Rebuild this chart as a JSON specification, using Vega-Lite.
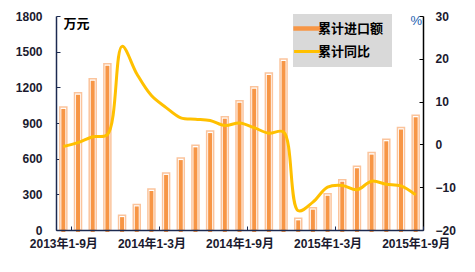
{
  "$schema": "https://vega.github.io/schema/vega-lite/v6.json",
  "width": 367,
  "height": 214,
  "autosize": {"type": "none"},
  "padding": {"left": 56, "top": 16, "right": 52, "bottom": 42},
  "background": "white",
  "config": {
    "view": {"stroke": null},
    "font": "Liberation Sans, Noto Sans CJK SC",
    "axis": {"labelFont": "Liberation Sans, Noto Sans CJK SC", "labelFontWeight": "bold", "labelFontSize": 12, "labelColor": "#1a1a2e", "grid": false}
  },
  "data": {"values": [
    {"period": "2013年1-9月", "amount": 1035, "yoy": -0.5},
    {"period": "2013年1-10月", "amount": 1155, "yoy": 0.4},
    {"period": "2013年1-11月", "amount": 1272, "yoy": 1.8},
    {"period": "2013年1-12月", "amount": 1398, "yoy": 2.3},
    {"period": "2014年1月", "amount": 125, "yoy": 22.9},
    {"period": "2014年1-2月", "amount": 215, "yoy": 16.5},
    {"period": "2014年1-3月", "amount": 345, "yoy": 11.4},
    {"period": "2014年1-4月", "amount": 480, "yoy": 8.6},
    {"period": "2014年1-5月", "amount": 605, "yoy": 6.2},
    {"period": "2014年1-6月", "amount": 712, "yoy": 5.9},
    {"period": "2014年1-7月", "amount": 832, "yoy": 5.6},
    {"period": "2014年1-8月", "amount": 953, "yoy": 4.4},
    {"period": "2014年1-9月", "amount": 1088, "yoy": 5.0},
    {"period": "2014年1-10月", "amount": 1205, "yoy": 3.9},
    {"period": "2014年1-11月", "amount": 1320, "yoy": 2.6},
    {"period": "2014年1-12月", "amount": 1438, "yoy": 2.9},
    {"period": "2015年1月", "amount": 98, "yoy": -15.5},
    {"period": "2015年1-2月", "amount": 188, "yoy": -13.5},
    {"period": "2015年1-3月", "amount": 305, "yoy": -10.0},
    {"period": "2015年1-4月", "amount": 423, "yoy": -9.6},
    {"period": "2015年1-5月", "amount": 536, "yoy": -10.6},
    {"period": "2015年1-6月", "amount": 651, "yoy": -8.6},
    {"period": "2015年1-7月", "amount": 763, "yoy": -9.3},
    {"period": "2015年1-8月", "amount": 862, "yoy": -9.7},
    {"period": "2015年1-9月", "amount": 965, "yoy": -11.8}
  ]},
  "encoding": {
    "x": {
      "field": "period", "type": "nominal", "sort": null,
      "scale": {"paddingInner": 0, "paddingOuter": 0},
      "axis": {
        "title": null, "labelAngle": 0, "zindex": 1,
        "values": ["2013年1-9月", "2014年1-3月", "2014年1-9月", "2015年1-3月", "2015年1-9月"],
        "domainColor": "#1c2a50", "domainWidth": 1.5, "tickColor": "#1c2a50",
        "tickBand": "extent", "tickSize": -4, "labelPadding": 12
      }
    }
  },
  "layer": [
    {
      "mark": {"type": "bar", "size": 7, "fill": "white", "stroke": "#fbc49c", "strokeWidth": 1.5},
      "encoding": {
        "y": {
          "field": "amount", "type": "quantitative",
          "scale": {"domain": [0, 1800]},
          "axis": {
            "values": [0, 300, 600, 900, 1200, 1500, 1800], "orient": "left", "format": "d",
            "title": "万元", "titleAngle": 0, "titleX": 7, "titleY": 1, "titleAlign": "left", "titleBaseline": "top",
            "titleFont": "Noto Sans CJK SC", "titleFontSize": 13, "titleFontWeight": "bold", "titleColor": "black",
            "domainColor": "#1c2a50", "domainWidth": 1.5, "tickColor": "#1c2a50", "tickSize": -4, "labelPadding": 18
          }
        }
      }
    },
    {
      "mark": {"type": "bar", "size": 4, "yOffset": 2},
      "encoding": {
        "y": {"field": "amount", "type": "quantitative", "scale": {"domain": [0, 1800]}, "axis": null},
        "color": {"datum": "累计进口额", "type": "nominal"}
      }
    },
    {
      "mark": {"type": "line", "strokeWidth": 3, "interpolate": "catmull-rom"},
      "encoding": {
        "y": {
          "field": "yoy", "type": "quantitative",
          "scale": {"domain": [-20, 30]},
          "axis": {
            "orient": "right", "values": [-20, -10, 0, 10, 20, 30],
            "title": "%", "titleAngle": 0, "titleX": -13, "titleY": -2, "titleAlign": "left", "titleBaseline": "top",
            "titleFont": "Liberation Sans", "titleFontSize": 13, "titleFontWeight": "normal", "titleColor": "#2060b0",
            "domainColor": "black", "domainWidth": 1.5, "tickColor": "black", "tickSize": -4, "labelPadding": 16
          }
        },
        "color": {
          "datum": "累计同比", "type": "nominal",
          "scale": {"domain": ["累计进口额", "累计同比"], "range": ["#f79646", "#ffc000"]},
          "legend": {
            "title": null, "orient": "none", "legendX": 237, "legendY": -2,
            "fillColor": "#d9d9d9", "padding": 8, "rowPadding": 9,
            "labelFont": "Noto Sans CJK SC", "labelFontSize": 13, "labelFontWeight": "bold", "labelColor": "black",
            "labelOffset": 4, "symbolSize": 180,
            "encode": {
              "symbols": {
                "update": {
                  "shape": {"signal": "datum.value === '累计进口额' ? 'M-2,-0.22H2V0.22H-2Z' : 'M-2,0H2'"},
                  "fill": {"signal": "datum.value === '累计进口额' ? '#f79646' : 'transparent'"},
                  "stroke": {"signal": "datum.value === '累计进口额' ? '#fbc49c' : '#ffc000'"},
                  "strokeWidth": {"signal": "datum.value === '累计进口额' ? 1.5 : 3"},
                  "opacity": {"value": 1}
                }
              }
            }
          }
        }
      }
    }
  ],
  "resolve": {"scale": {"y": "independent"}}
}
